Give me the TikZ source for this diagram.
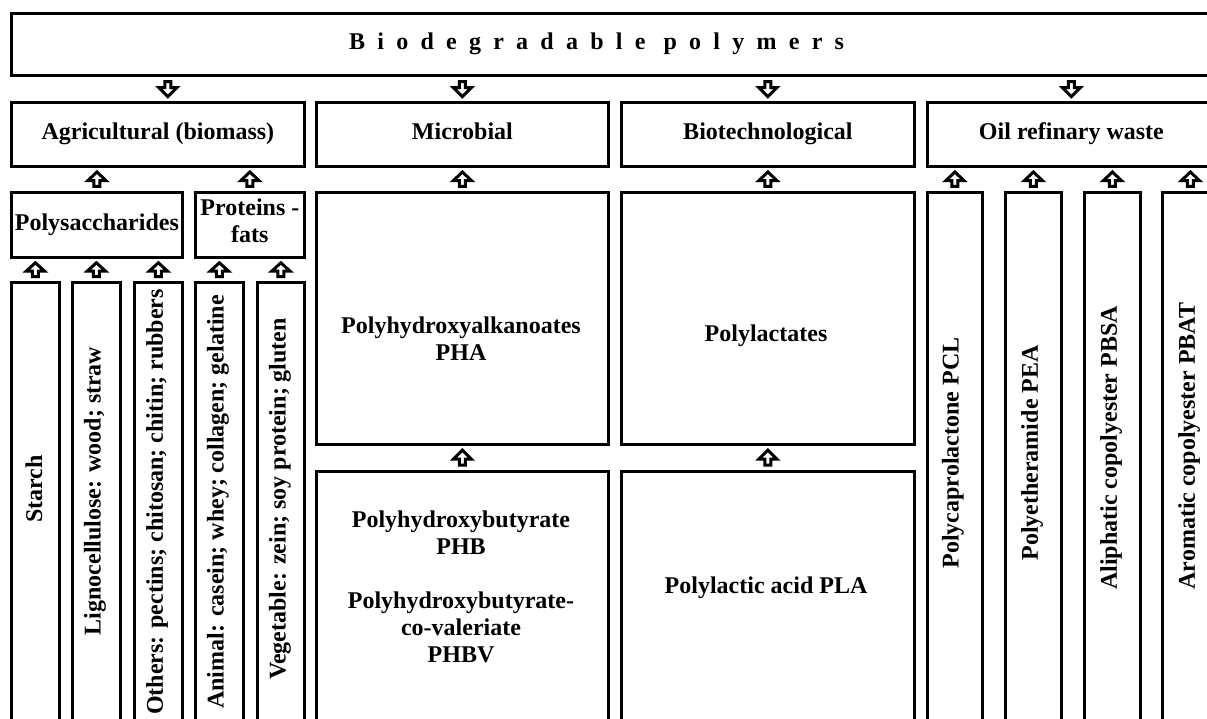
\documentclass[tikz,border=0pt]{standalone}
\usepackage{fontspec}
\setmainfont{Liberation Serif}
\usetikzlibrary{calc}
\begin{document}
\begin{tikzpicture}[x=1pt,y=-1pt, line join=miter,
    font=\bfseries\fontsize{24}{27}\selectfont,
    box/.style={draw, line width=2.8pt, inner sep=0pt, anchor=north west, align=center,
        execute at begin node=\strut},
    lbl/.style={align=center, inner sep=0pt},
    vlbl/.style={rotate=90, inner sep=0pt},
    fatarrow/.style={draw, line width=3pt, fill=white,
        to path={let \p1=(\tikztostart), \p2=(\tikztotarget) in
            (\x1-3pt,{\y1+0.2*(\y2-\y1)}) -- (\x1-3pt,{\y1+0.45*(\y2-\y1)})
            -- (\x1-9pt,{\y1+0.45*(\y2-\y1)}) -- (\x1,{\y1+0.82*(\y2-\y1)})
            -- (\x1+9pt,{\y1+0.45*(\y2-\y1)}) -- (\x1+3pt,{\y1+0.45*(\y2-\y1)})
            -- (\x1+3pt,{\y1+0.2*(\y2-\y1)}) -- cycle}}]
    \def\rb{101} \def\rc{191} \def\rd{281} \def\re{470}
    \useasboundingbox (0,0) rectangle (1207,719);
    \clip (0,0) rectangle (1207,719);
    \node[box, minimum width=1204pt, minimum height=62pt] (top) at (10,12) {};
    \node[lbl, anchor=base west] (title) at (349,50) {\addfontfeatures{LetterSpace=51}Biodegradable polymers};
    \node[box, minimum width=293pt, minimum height=64pt] (agri) at (10,\rb) {Agricultural (biomass)};
    \node[box, minimum width=292pt, minimum height=64pt] (micro) at (315,\rb) {Microbial};
    \node[box, minimum width=293pt, minimum height=64pt] (biot) at (620,\rb) {Biotechnological};
    \node[box, minimum width=288pt, minimum height=64pt] (oil) at (926,\rb) {Oil refinary waste};
    \node[box, minimum width=171pt, minimum height=65pt] (polys) at (10,\rc) {Polysaccharides};
    \node[box, minimum width=109pt, minimum height=65pt] (prot) at (194,\rc) {Proteins -\\fats};
    \node[box, minimum width=48pt, minimum height=470pt] (starch) at (10,\rd) {};
    \node[box, minimum width=48pt, minimum height=470pt] (ligno) at (71,\rd) {};
    \node[box, minimum width=48pt, minimum height=470pt] (others) at (133,\rd) {};
    \node[box, minimum width=48pt, minimum height=470pt] (animal) at (194,\rd) {};
    \node[box, minimum width=47pt, minimum height=470pt] (veget) at (256,\rd) {};
    \node[vlbl] (tstarch) at (34,489) {Starch};
    \node[vlbl] (tligno) at (95,491) {Lignocellulose: wood; straw};
    \node[vlbl] (tothers) at (157,502) {Others: pectins; chitosan; chitin; rubbers};
    \node[vlbl] (tanimal) at (218,502) {Animal: casein; whey; collagen; gelatine};
    \node[vlbl] (tveget) at (280,499) {Vegetable: zein; soy protein; gluten};
    \node[box, minimum width=292pt, minimum height=252pt] (pha) at (315,\rc) {};
    \node[box, minimum width=292pt, minimum height=280pt] (phb) at (315,\re) {};
    \node[box, minimum width=293pt, minimum height=252pt] (plas) at (620,\rc) {};
    \node[box, minimum width=293pt, minimum height=280pt] (pla) at (620,\re) {};
    \node[lbl] (tpha) at (461,339) {Polyhydroxyalkanoates\\PHA};
    \node[lbl] (tphb) at (461,587) {Polyhydroxybutyrate\\PHB\\[27pt]Polyhydroxybutyrate-\\co-valeriate\\PHBV};
    \node[lbl] (tplas) at (766,336) {Polylactates};
    \node[lbl] (tpla) at (766,588) {Polylactic acid PLA};
    \node[box, minimum width=55pt, minimum height=560pt] (pcl) at (926,\rc) {};
    \node[box, minimum width=56pt, minimum height=560pt] (pea) at (1004,\rc) {};
    \node[box, minimum width=56pt, minimum height=560pt] (pbsa) at (1083,\rc) {};
    \node[box, minimum width=56pt, minimum height=560pt] (pbat) at (1161,\rc) {};
    \node[vlbl] (tpcl) at (953,453) {Polycaprolactone PCL};
    \node[vlbl] (tpea) at (1032,453) {Polyetheramide PEA};
    \node[vlbl] (tpbsa) at (1111,448) {Aliphatic copolyester PBSA};
    \node[vlbl] (tpbat) at (1189,446) {Aromatic copolyester PBAT};
    \draw[fatarrow] ([xshift=10pt]agri.north |- top.south) to ([xshift=10pt]agri.north);
    \foreach \b in {micro,biot,oil}
        \draw[fatarrow] (\b.north |- top.south) to (\b.north);
    \foreach \b in {polys,prot}
        \draw[fatarrow] (\b.north) to (\b.north |- agri.south);
    \foreach \b in {starch,ligno,others}
        \draw[fatarrow] (\b.north) to (\b.north |- polys.south);
    \foreach \b in {animal,veget}
        \draw[fatarrow] (\b.north) to (\b.north |- prot.south);
    \draw[fatarrow] (pha.north) to (micro.south);
    \draw[fatarrow] (phb.north) to (pha.south);
    \draw[fatarrow] (plas.north) to (biot.south);
    \draw[fatarrow] (pla.north) to (plas.south);
    \foreach \b in {pcl,pea,pbsa,pbat}
        \draw[fatarrow] (\b.north) to (\b.north |- oil.south);
\end{tikzpicture}
\end{document}
